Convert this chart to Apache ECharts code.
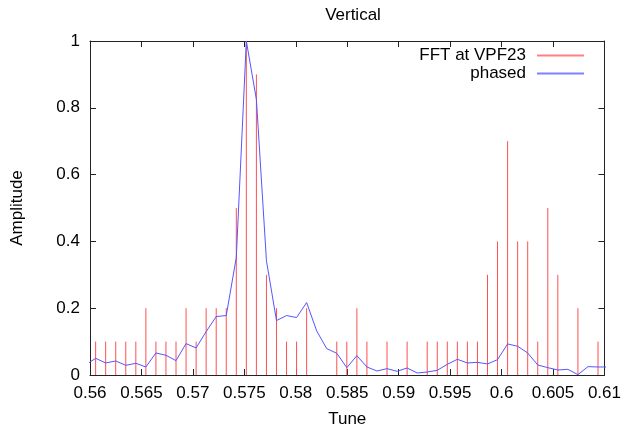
<!DOCTYPE html>
<html>
<head>
<meta charset="utf-8">
<script src="https://cdn.jsdelivr.net/npm/echarts@6/dist/echarts.min.js"></script>
<style>
html,body{margin:0;padding:0;background:#fff;}
#chart{width:624px;height:433px;}
</style>
</head>
<body>
<div id="chart"></div>
<script>
// Tune values (FFT bins)
const tune = [
  0.559570, 0.560547, 0.561523, 0.562500, 0.563477, 0.564453, 0.565430, 0.566406, 0.567383, 0.568359,
  0.569336, 0.570313, 0.571289, 0.572266, 0.573242, 0.574219, 0.575195, 0.576172, 0.577148, 0.578125,
  0.579102, 0.580078, 0.581055, 0.582031, 0.583008, 0.583984, 0.584961, 0.585938, 0.586914, 0.587891,
  0.588867, 0.589844, 0.590820, 0.591797, 0.592773, 0.593750, 0.594727, 0.595703, 0.596680, 0.597656,
  0.598633, 0.599609, 0.600586, 0.601563, 0.602539, 0.603516, 0.604492, 0.605469, 0.606445, 0.607422,
  0.608398, 0.609375, 0.610352
];
// FFT at VPF23 amplitudes (impulses)
const fft = [
  null, 0.1, 0.1, 0.1, 0.1, 0.1, 0.2, 0.1, 0.1, 0.1,
  0.2, 0.1, 0.2, 0.2, 0.2, 0.5, 1.0, 0.9, 0.3, 0.2,
  0.1, 0.1, 0.2, 0, 0, 0.1, 0.1, 0.2, 0.1, 0,
  0.1, 0, 0.1, 0, 0.1, 0.1, 0.1, 0.1, 0.1, 0.1,
  0.3, 0.4, 0.7, 0.4, 0.4, 0.1, 0.5, 0.3, 0, 0.2,
  0, 0.1, null
];
// phased amplitudes
const phased = [
  0.030, 0.050, 0.036, 0.042, 0.029, 0.035, 0.024, 0.066, 0.059, 0.043,
  0.094, 0.081, 0.130, 0.175, 0.178, 0.352, 1.000, 0.825, 0.342, 0.163,
  0.178, 0.172, 0.217, 0.132, 0.079, 0.065, 0.022, 0.058, 0.024, 0.012,
  0.019, 0.011, 0.021, 0.006, 0.009, 0.014, 0.032, 0.047, 0.036, 0.038,
  0.033, 0.046, 0.093, 0.086, 0.066, 0.030, 0.022, 0.015, 0.017, 0.001,
  0.025, 0.024, 0.024
];
const xTicks = { min: 0.56, max: 0.61, interval: 0.005 };
const yTicks = { min: 0, max: 1, interval: 0.2 };

const RED = '#ff5050';
const BLUE = '#5555ff';
const AXIS = '#222';
const FONT = 'Liberation Sans';
const FS = 17;

const fftData = [];
tune.forEach((t, i) => { if (fft[i] !== null) fftData.push([t, fft[i]]); });
const phasedData = tune.map((t, i) => [t, phased[i]]);

const fmt = v => String(+v.toFixed(3));

const chart = echarts.init(document.getElementById('chart'), null, { renderer: 'canvas' });
const axisCommon = {
  axisLine: { show: true, onZero: false, lineStyle: { color: AXIS, width: 1 } },
  axisTick: { show: true, inside: true, length: 6, lineStyle: { color: AXIS } },
  splitLine: { show: false }
};
const legendCommon = {
  orient: 'vertical', align: 'right', right: 40, padding: 0,
  itemWidth: 47, itemHeight: 2, selectedMode: false,
  textStyle: { fontFamily: FONT, fontSize: FS, color: '#000', padding: [0, 6, 0, 0] }
};
chart.setOption({
  animation: false,
  backgroundColor: '#fff',
  title: {
    text: 'Vertical', left: 348, top: 2, textAlign: 'center',
    textStyle: { fontFamily: FONT, fontSize: FS, fontWeight: 'normal', color: '#000' }
  },
  legend: [
    Object.assign({ data: [{ name: 'FFT at VPF23', icon: 'rect', itemStyle: { color: '#ff8080', borderWidth: 0 } }], top: 47 }, legendCommon),
    Object.assign({ data: [{ name: 'phased', icon: 'rect', itemStyle: { color: '#8080ff', borderWidth: 0 } }], top: 65 }, legendCommon)
  ],
  grid: { left: 90, right: 18, top: 41, bottom: 54, containLabel: false },
  xAxis: [
    Object.assign({
      type: 'value', position: 'bottom', min: xTicks.min, max: xTicks.max, interval: xTicks.interval,
      name: 'Tune', nameLocation: 'middle', nameGap: 36,
      nameTextStyle: { fontFamily: FONT, fontSize: FS, color: '#000' },
      axisLabel: { formatter: fmt, margin: 10, fontFamily: FONT, fontSize: FS, color: '#000' }
    }, axisCommon),
    Object.assign({
      type: 'value', position: 'top', min: xTicks.min, max: xTicks.max, interval: xTicks.interval,
      axisLabel: { show: false }
    }, axisCommon)
  ],
  yAxis: [
    Object.assign({
      type: 'value', position: 'left', min: yTicks.min, max: yTicks.max, interval: yTicks.interval,
      name: 'Amplitude', nameLocation: 'middle', nameGap: 64,
      nameTextStyle: { fontFamily: FONT, fontSize: FS, color: '#000' },
      axisLabel: { formatter: fmt, margin: 10, fontFamily: FONT, fontSize: FS, color: '#000' }
    }, axisCommon),
    Object.assign({
      type: 'value', position: 'right', min: yTicks.min, max: yTicks.max, interval: yTicks.interval,
      axisLabel: { show: false }
    }, axisCommon)
  ],
  series: [
    {
      name: 'FFT at VPF23',
      type: 'custom',
      xAxisIndex: 0, yAxisIndex: 0,
      itemStyle: { color: RED },
      clip: true,
      data: fftData,
      renderItem: function (params, api) {
        const x = api.value(0), y = api.value(1);
        const p0 = api.coord([x, 0]);
        const p1 = api.coord([x, y]);
        return {
          type: 'line',
          shape: { x1: p0[0], y1: p0[1], x2: p1[0], y2: p1[1] },
          style: { stroke: RED, lineWidth: 1 }
        };
      },
      z: 2
    },
    {
      name: 'phased',
      type: 'line',
      xAxisIndex: 0, yAxisIndex: 0,
      data: phasedData,
      symbol: 'none',
      showSymbol: false,
      clip: true,
      lineStyle: { color: BLUE, width: 1 },
      itemStyle: { color: BLUE },
      z: 3
    }
  ]
});
</script>
</body>
</html>
